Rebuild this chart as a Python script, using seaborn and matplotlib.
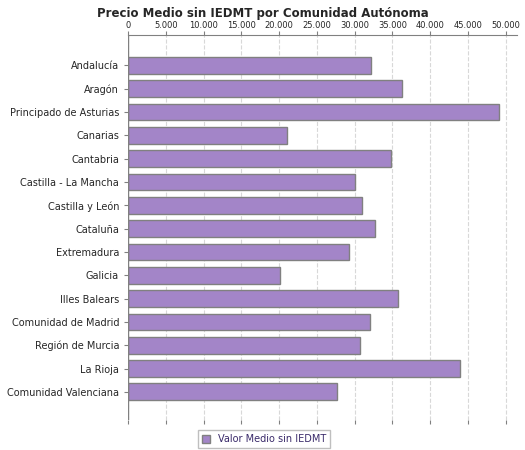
import matplotlib
matplotlib.use("Agg")
import matplotlib.pyplot as plt
from matplotlib.ticker import FuncFormatter
import seaborn as sns
import pandas as pd

regions = ["Andalucía", "Aragón", "Principado de Asturias", "Canarias", "Cantabria",
           "Castilla - La Mancha", "Castilla y León", "Cataluña", "Extremadura", "Galicia",
           "Illes Balears", "Comunidad de Madrid", "Región de Murcia", "La Rioja",
           "Comunidad Valenciana"]
values = [32100, 36200, 49100, 21000, 34800, 30000, 30900, 32700, 29200, 20100,
          35700, 32000, 30700, 43900, 27700]

df = pd.DataFrame({"region": regions, "valor": values})

sns.set_style("white")
plt.rcParams["font.family"] = ["DejaVu Sans"]

fig = plt.figure(figsize=(5.25, 4.5), dpi=100)
ax = fig.add_axes([0.244, 0.067, 0.741, 0.855])
sns.barplot(data=df, x="valor", y="region", color="#a385c8", edgecolor="#808080",
            linewidth=1, width=0.72, saturation=1, ax=ax, label="Valor Medio sin IEDMT")

ax.set_xlim(0, 51500)
ax.set_ylim(15.2, -1.3)
ax.set_xticks(range(0, 50001, 5000))
ax.xaxis.set_major_formatter(FuncFormatter(lambda v, p: f"{int(v):,}".replace(",", ".")))
ax.xaxis.tick_top()
ax.tick_params(axis="x", labelsize=6, length=3, color="#808080", top=True, bottom=True,
               labelbottom=False, pad=1)
ax.tick_params(axis="y", labelsize=7, length=3, color="#808080", left=True)
ax.grid(axis="x", color="#d8d8d8", linestyle="--", linewidth=0.8)
ax.set_axisbelow(True)
for s in ["right", "bottom"]:
    ax.spines[s].set_visible(False)
ax.spines["top"].set_color("#808080")
ax.spines["left"].set_visible(False)
ax.axvline(0, color="#808080", linewidth=1)
ax.set_xlabel("")
ax.set_ylabel("")

fig.text(0.5, 0.985, "Precio Medio sin IEDMT por Comunidad Autónoma", ha="center", va="top",
         fontsize=8.5, fontweight="bold")
leg = ax.legend(loc="upper center", bbox_to_anchor=(0.35, -0.015), fontsize=7, frameon=True,
                fancybox=False, edgecolor="#b0b0b0", handlelength=0.8, handleheight=0.8,
                borderpad=0.4)
for t in leg.get_texts():
    t.set_color("#3a2a6a")

fig.savefig("out.png", dpi=100)
